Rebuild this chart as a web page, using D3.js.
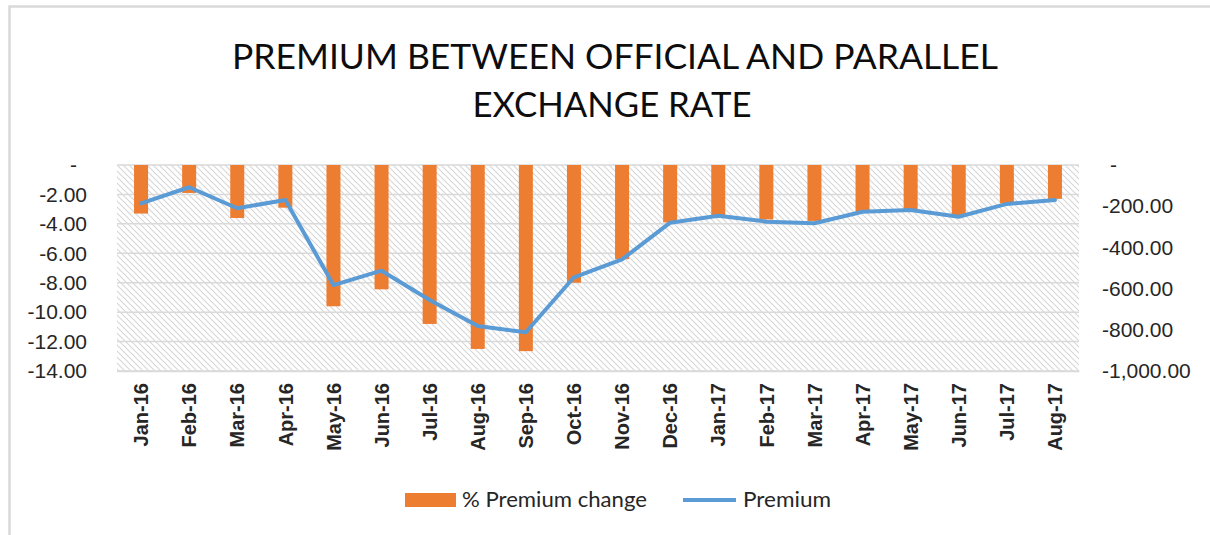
<!DOCTYPE html>
<html>
<head>
<meta charset="utf-8">
<script src="https://cdn.jsdelivr.net/npm/d3@7"></script>
<style>
    body { margin: 0; background: #fff; }
    svg { display: block; }
</style>
</head>
<body>
<svg id="premium-chart"></svg>
<script>
// Monthly data
const months = ["Jan-16", "Feb-16", "Mar-16", "Apr-16", "May-16", "Jun-16", "Jul-16", "Aug-16",
    "Sep-16", "Oct-16", "Nov-16", "Dec-16", "Jan-17", "Feb-17", "Mar-17", "Apr-17",
    "May-17", "Jun-17", "Jul-17", "Aug-17"];
const pctChange = [-3.3, -1.9, -3.6, -2.9, -9.6, -8.45, -10.8, -12.5, -12.65, -8.0,
    -6.4, -3.9, -3.45, -3.7, -3.8, -3.2, -3.0, -3.5, -2.6, -2.3];
const premium = [-186, -108, -210, -170, -583, -513, -655, -782, -812, -545,
    -458, -280, -246, -275, -283, -227, -218, -251, -189, -170];
const leftTicks = [0, -2, -4, -6, -8, -10, -12, -14];
const rightTicks = [0, -200, -400, -600, -800, -1000];

function drawPremiumChart() {
    const width = 1210;
    const height = 535;
    // plot area edges
    const left = 117, right = 1079, top = 165, bottom = 371;

    const locale = d3.formatLocale({
        decimal: ".", thousands: ",", grouping: [3], currency: ["$", ""], minus: "-"
    });
    const fmt = v => v === 0 ? "-" : locale.format(",.2f")(v);

    const xScale = d3.scaleBand()
        .domain(months)
        .range([left, right]);

    const yLeft = d3.scaleLinear()
        .domain([-14, 0])
        .range([bottom, top]);

    const yRight = d3.scaleLinear()
        .domain([-1000, 0])
        .range([bottom, top]);

    const svg = d3.select("#premium-chart")
        .attr("width", width)
        .attr("height", height);

    // hatch fill of the plot area
    const pattern = svg.append("defs")
        .append("pattern")
            .attr("id", "hatch")
            .attr("patternUnits", "userSpaceOnUse")
            .attr("width", 6)
            .attr("height", 6);
    pattern.append("path")
        .attr("d", "M0,0 L6,6 M-1,5 L1,7 M5,-1 L7,1")
        .attr("stroke", "#d6d6d6")
        .attr("stroke-width", 1.1);

    // chart frame (left and top edges visible)
    svg.append("path")
        .attr("d", `M9.5,${height} V6.5 H${width}`)
        .attr("fill", "none")
        .attr("stroke", "#d9d9d9")
        .attr("stroke-width", 2.5);

    svg.append("rect")
        .attr("x", left)
        .attr("y", top)
        .attr("width", right - left)
        .attr("height", bottom - top)
        .attr("fill", "url(#hatch)");

    // gridlines
    svg.append("g")
        .selectAll("line")
        .data(leftTicks)
        .enter()
        .append("line")
            .attr("x1", left)
            .attr("x2", right)
            .attr("y1", d => yLeft(d))
            .attr("y2", d => yLeft(d))
            .attr("stroke", "#d9d9d9")
            .attr("stroke-width", 1.5);

    // bars
    const barWidth = 14;
    svg.append("g")
        .selectAll("rect")
        .data(pctChange)
        .enter()
        .append("rect")
            .attr("x", (d, i) => xScale(months[i]) + (xScale.bandwidth() - barWidth) / 2)
            .attr("y", yLeft(0))
            .attr("width", barWidth)
            .attr("height", d => yLeft(d) - yLeft(0))
            .attr("fill", "#ed7d31");

    // premium line
    const line = d3.line()
        .x((d, i) => xScale(months[i]) + xScale.bandwidth() / 2)
        .y(d => yRight(d));

    svg.append("path")
        .datum(premium)
        .attr("d", line)
        .attr("fill", "none")
        .attr("stroke", "#5b9bd5")
        .attr("stroke-width", 4)
        .attr("stroke-linejoin", "round")
        .attr("stroke-linecap", "round");

    // axes
    const axisFont = "'Liberation Sans', Arial, sans-serif";

    const leftAxis = svg.append("g")
        .attr("transform", `translate(${left}, 0)`)
        .call(d3.axisLeft(yLeft).tickValues(leftTicks).tickFormat(fmt).tickSize(0).tickPadding(30));
    leftAxis.select(".domain").remove();
    leftAxis.selectAll("text")
        .style("font-family", axisFont)
        .style("font-size", "21px")
        .attr("fill", "#262626")
        .attr("dx", d => d === 0 ? -10 : 0);

    const rightAxis = svg.append("g")
        .attr("transform", `translate(${right}, 0)`)
        .call(d3.axisRight(yRight).tickValues(rightTicks).tickFormat(fmt).tickSize(0).tickPadding(23));
    rightAxis.select(".domain").remove();
    rightAxis.selectAll("text")
        .style("font-family", axisFont)
        .style("font-size", "21px")
        .attr("fill", "#262626")
        .attr("dx", d => d === 0 ? 8 : 0);

    const xAxis = svg.append("g")
        .attr("transform", `translate(0, ${bottom})`)
        .call(d3.axisBottom(xScale).tickSize(0));
    xAxis.select(".domain")
        .attr("stroke", "#d9d9d9")
        .attr("stroke-width", 1.5);
    xAxis.selectAll("text")
        .attr("transform", "rotate(-90)")
        .attr("x", -12)
        .attr("y", 0)
        .attr("dy", "0.36em")
        .style("text-anchor", "end")
        .style("font-family", axisFont)
        .style("font-size", "20px")
        .style("font-weight", "bold")
        .attr("fill", "#262626");

    // title
    const titleFont = "Lato, 'Open Sans', sans-serif";
    svg.append("text")
        .attr("x", 615)
        .attr("y", 69)
        .attr("textLength", 766)
        .attr("lengthAdjust", "spacingAndGlyphs")
        .style("text-anchor", "middle")
        .style("font-family", titleFont)
        .style("font-size", "34px")
        .attr("fill", "#0d0d0d")
        .text("PREMIUM BETWEEN OFFICIAL AND PARALLEL");

    svg.append("text")
        .attr("x", 612)
        .attr("y", 117)
        .attr("textLength", 279)
        .attr("lengthAdjust", "spacingAndGlyphs")
        .style("text-anchor", "middle")
        .style("font-family", titleFont)
        .style("font-size", "34px")
        .attr("fill", "#0d0d0d")
        .text("EXCHANGE RATE");

    // legend
    svg.append("rect")
        .attr("x", 405)
        .attr("y", 493)
        .attr("width", 51)
        .attr("height", 14)
        .attr("fill", "#ed7d31");

    svg.append("text")
        .attr("x", 462)
        .attr("y", 507)
        .attr("textLength", 185)
        .attr("lengthAdjust", "spacingAndGlyphs")
        .style("font-family", titleFont)
        .style("font-size", "22px")
        .attr("fill", "#262626")
        .text("% Premium change");

    svg.append("line")
        .attr("x1", 683)
        .attr("x2", 736)
        .attr("y1", 500)
        .attr("y2", 500)
        .attr("stroke", "#5b9bd5")
        .attr("stroke-width", 4);

    svg.append("text")
        .attr("x", 743)
        .attr("y", 507)
        .attr("textLength", 88)
        .attr("lengthAdjust", "spacingAndGlyphs")
        .style("font-family", titleFont)
        .style("font-size", "22px")
        .attr("fill", "#262626")
        .text("Premium");
}

drawPremiumChart();
</script>
</body>
</html>
